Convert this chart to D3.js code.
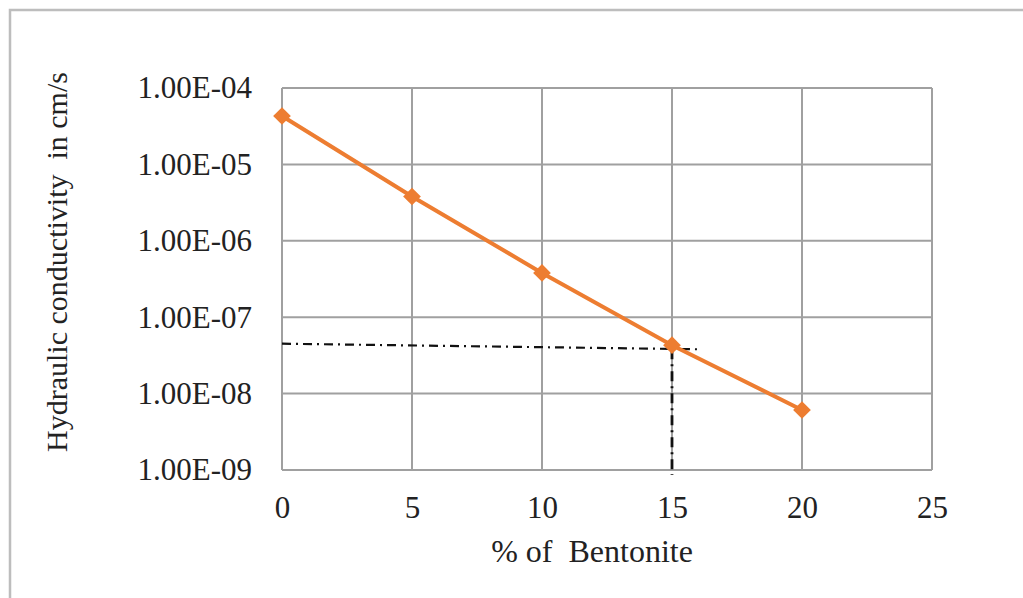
<!DOCTYPE html>
<meta charset="utf-8">
<script src="https://d3js.org/d3.v7.min.js"></script>
<style>
  body { margin: 0; background: #fff; }
  text { font-family: "Liberation Serif", "Times New Roman", serif; fill: #222; }
</style>
<div id="my_dataviz"></div>
<script>

// data
var bentonite = [0, 5, 10, 15, 20]
var conductivity = [4.3e-5, 3.8e-6, 3.8e-7, 4.3e-8, 6.1e-9]
var xTicks = [0, 5, 10, 15, 20, 25]
var yTicks = [1e-4, 1e-5, 1e-6, 1e-7, 1e-8, 1e-9]
// dash-dot guide lines at 15 % bentonite
var guideX = [0, 16.1]
var guideY = [4.5e-8, 3.8e-8]

var width = 1023,
    height = 598

var plot = {left: 282, top: 88, right: 932, bottom: 470}

var svg = d3.select("#my_dataviz")
  .append("svg")
    .attr("width", width)
    .attr("height", height)

// outer chart frame
svg.append("rect")
  .attr("x", 10).attr("y", 10)
  .attr("width", 1030).attr("height", 600)
  .attr("fill", "white")
  .attr("stroke", "#bdbdbd")
  .attr("stroke-width", 2.5)

var x = d3.scaleLinear()
  .domain([0, 25])
  .range([plot.left, plot.right])

var y = d3.scaleLog()
  .domain([1e-9, 1e-4])
  .range([plot.bottom, plot.top])

// grid lines
svg.append("g")
  .selectAll("line.v")
  .data(xTicks)
  .enter().append("line")
    .attr("x1", d => x(d)).attr("x2", d => x(d))
    .attr("y1", plot.top).attr("y2", plot.bottom)
    .attr("stroke", "#a0a0a0")
    .attr("stroke-width", 2)

svg.append("g")
  .selectAll("line.h")
  .data(yTicks)
  .enter().append("line")
    .attr("x1", plot.left).attr("x2", plot.right)
    .attr("y1", d => y(d)).attr("y2", d => y(d))
    .attr("stroke", "#a0a0a0")
    .attr("stroke-width", 2)

// axes (text only, the grid does the lines)
var xAxis = svg.append("g")
  .attr("transform", "translate(0," + plot.bottom + ")")
  .call(d3.axisBottom(x).tickValues(xTicks).tickSize(0).tickPadding(26))
xAxis.select(".domain").remove()
xAxis.selectAll("text")
  .attr("font-size", 31)
  .style("font-size", "31px")
  .style("font-family", "Liberation Serif")

var yAxis = svg.append("g")
  .attr("transform", "translate(" + plot.left + ",0)")
  .call(d3.axisLeft(y).tickValues(yTicks).tickSize(0).tickPadding(30)
    .tickFormat(d => d.toExponential(2).toUpperCase().replace(/E-(\d)$/, "E-0$1")))
yAxis.select(".domain").remove()
yAxis.selectAll("text")
  .attr("font-size", 31)
  .style("font-size", "31px")
  .style("font-family", "Liberation Serif")

// axis titles
svg.append("text")
  .attr("x", 592).attr("y", 562)
  .attr("text-anchor", "middle")
  .style("font-size", "32px")
  .style("white-space", "pre")
  .text("% of  Bentonite")

svg.append("text")
  .attr("transform", "translate(67,262) rotate(-90)")
  .attr("text-anchor", "middle")
  .style("font-size", "30px")
  .style("white-space", "pre")
  .text("Hydraulic conductivity  in cm/s")

// dash-dot guides
svg.append("line")
  .attr("x1", x(guideX[0])).attr("x2", x(guideX[1]))
  .attr("y1", y(guideY[0])).attr("y2", y(guideY[1]))
  .attr("stroke", "#111")
  .attr("stroke-width", 2.2)
  .attr("stroke-dasharray", "9,5,2,5")

svg.append("line")
  .attr("x1", x(15)).attr("x2", x(15))
  .attr("y1", y(guideY[1])).attr("y2", plot.bottom + 5)
  .attr("stroke", "#111")
  .attr("stroke-width", 2.8)
  .attr("stroke-dasharray", "10,5,2,5")

// the series
var pts = bentonite.map((b, i) => [b, conductivity[i]])

svg.append("path")
  .datum(pts)
  .attr("fill", "none")
  .attr("stroke", "#ed7d31")
  .attr("stroke-width", 4)
  .attr("d", d3.line().x(d => x(d[0])).y(d => y(d[1])))

svg.append("g")
  .selectAll("path")
  .data(pts)
  .enter().append("path")
    .attr("transform", d => "translate(" + x(d[0]) + "," + y(d[1]) + ")")
    .attr("d", d3.symbol().type(d3.symbolDiamond2).size(200))
    .attr("fill", "#ed7d31")

</script>
